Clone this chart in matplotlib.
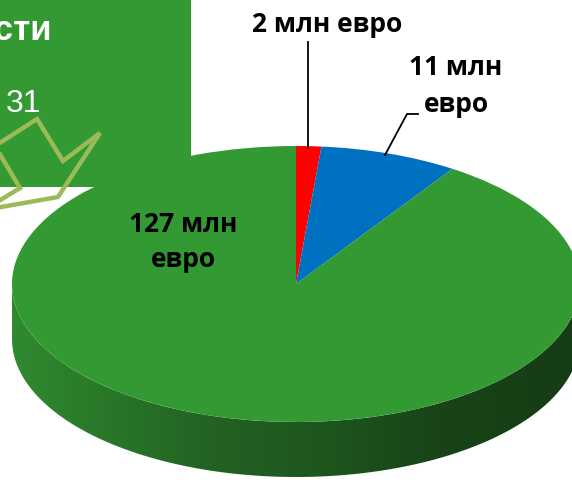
import numpy as np
import matplotlib
matplotlib.use("Agg")
import matplotlib.pyplot as plt
from matplotlib.patches import Wedge, Polygon, Rectangle
from matplotlib.transforms import Affine2D
from matplotlib.colors import LinearSegmentedColormap

# ---- data ----
labels = ["2 млн евро", "11 млн\nевро", "127 млн\nевро"]
values = [2, 11, 127]
colors = ["#ff0000", "#0070c0", "#339933"]
box_title = "ости"
box_number = "31"

W, H = 572, 482
fig = plt.figure(figsize=(W / 100, H / 100), dpi=100)
ax = fig.add_axes([0, 0, 1, 1])
ax.set_xlim(0, W)
ax.set_ylim(0, H)
ax.axis("off")

def Y(py):
    return H - py

# background green box (partially cropped)
ax.add_patch(Rectangle((0, Y(187)), 191, 187, facecolor="#339933", edgecolor="none", zorder=0))
ax.text(52, Y(30), box_title, color="white", fontsize=25, fontweight="bold",
        family=["Liberation Sans", "DejaVu Sans"], ha="right", va="center", zorder=1)
ax.text(24, Y(104), box_number, color="white", fontsize=23,
        family=["Liberation Sans", "DejaVu Sans"], ha="center", va="center", zorder=1)

# pie geometry
cx, cy = 296, Y(284)
rx, ry = 284, 138
depth = 55
tr = Affine2D().scale(rx, ry).translate(cx, cy) + ax.transData

# side wall (front half, all in the big green slice)
t = np.linspace(np.pi, 2 * np.pi, 300)
xs = cx + rx * np.cos(t)
ys = cy + ry * np.sin(t)
side = np.concatenate([np.column_stack([xs, ys]), np.column_stack([xs[::-1], ys[::-1] - depth])])
side_poly = Polygon(side, closed=True, facecolor="none", edgecolor="none")
ax.add_patch(side_poly)
grad_cmap = LinearSegmentedColormap.from_list(
    "side", [(0.0, "#2f8a2f"), (0.35, "#236223"), (0.55, "#1e561e"), (0.75, "#184418"), (1.0, "#163c16")])
grad = np.linspace(0, 1, 512).reshape(1, -1)
im = ax.imshow(grad, cmap=grad_cmap, extent=[cx - rx, cx + rx, cy - ry - depth - 2, cy + 2],
               aspect="auto", zorder=2, interpolation="bilinear")
im.set_clip_path(side_poly)
ax.set_xlim(0, W)
ax.set_ylim(0, H)

# top face wedges, clockwise from 12 o'clock
total = float(sum(values))
start = 90.0
for v, c in zip(values, colors):
    span = 360.0 * v / total
    w = Wedge((0, 0), 1.0, start - span, start, facecolor=c, edgecolor="none", transform=tr, zorder=3)
    ax.add_patch(w)
    start -= span

# arrow outline in the box (partly cropped at the left edge)
arrow_pts = [(-5, 146), (37, 119), (63, 161), (100, 133), (58, 197), (-16, 210), (20, 188)]
ax.add_patch(Polygon([(x, Y(y)) for x, y in arrow_pts], closed=True, facecolor="none",
                     edgecolor="#9bbb59", linewidth=3.2, joinstyle="miter", zorder=4))

lab_font = dict(fontsize=19, fontweight="bold", family=["Open Sans", "DejaVu Sans"],
                color="black", ha="center", va="center", zorder=5)
ax.text(327, Y(24), labels[0], **lab_font)
ax.text(456, Y(86), labels[1], linespacing=1.5, **lab_font)
ax.text(183, Y(242), labels[2], linespacing=1.4, **lab_font)

# leader lines
ax.plot([308, 308], [Y(42), Y(148)], color="black", lw=1.3, zorder=5)
ax.plot([418, 407, 385], [Y(114), Y(114), Y(155)], color="black", lw=1.3, zorder=5)

fig.savefig("out.png", dpi=100)
